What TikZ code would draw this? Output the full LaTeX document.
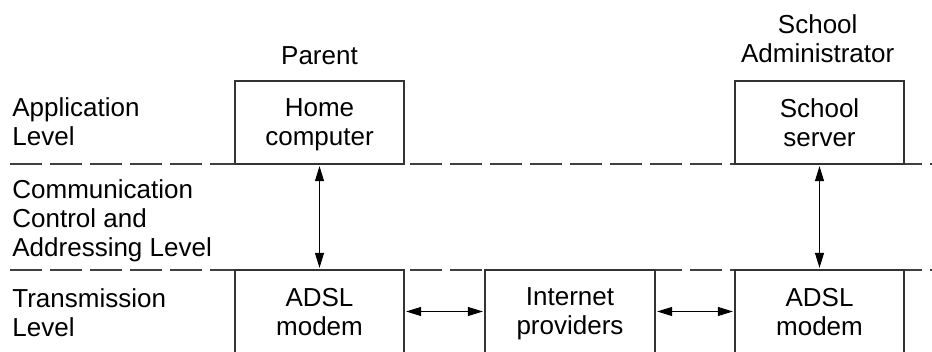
\documentclass[tikz,border=0pt]{standalone}
\usepackage{fontspec}
\setmainfont{Liberation Sans}
\usetikzlibrary{arrows.meta}

\begin{document}
\begin{tikzpicture}[x=1pt, y=-1pt, thick,
    box/.style = {draw=black!80, line width=1.3pt, minimum width=169pt, minimum height=83pt, inner sep=0pt, align=center, text depth=0pt},
    levelname/.style = {anchor=north west, inner sep=0pt, align=left},
    levelline/.style = {draw=black!75, line width=1.1pt, dash pattern=on 32pt off 8pt},
    link/.style = {{Triangle[length=15pt,width=9pt]}-{Triangle[length=15pt,width=9pt]}, line width=1pt, shorten <=1.5pt, shorten >=1.5pt}
    ]
    \useasboundingbox (0,0) rectangle (932,352);
    \fontsize{26}{29}\selectfont

    % levels
    \draw[levelline] (10,164) -- (932,164);
    \draw[levelline] (10,270) -- (932,270);

    \node[levelname] (app) at (12,97) {Application\\Level};
    \node[levelname] (comm) at (12,179) {Communication\\Control and\\Addressing Level};
    \node[levelname] (trans) at (12,288) {Transmission\\Level};

    % users
    \node[anchor=base, inner sep=0pt] (parent) at (319.5,65) {Parent};
    \node[anchor=north, inner sep=0pt, align=center] (admin) at (817.7,14) {School\\Administrator};

    % boxes
    \node[box] (home) at (319.5,122.5) {Home\\computer};
    \node[box] (server) at (819.5,122.5) {School\\server};
    \node[box] (modemL) at (319.5,311.5) {ADSL\\modem};
    \node[box, minimum width=170pt] (isp) at (570,311.5) {Internet\\providers};
    \node[box] (modemR) at (819.5,311.5) {ADSL\\modem};

    \draw[link] (home) -- (modemL);
    \draw[link] (server) -- (modemR);
    \draw[link] (modemL) -- (isp);
    \draw[link] (isp) -- (modemR);

\end{tikzpicture}
\end{document}
